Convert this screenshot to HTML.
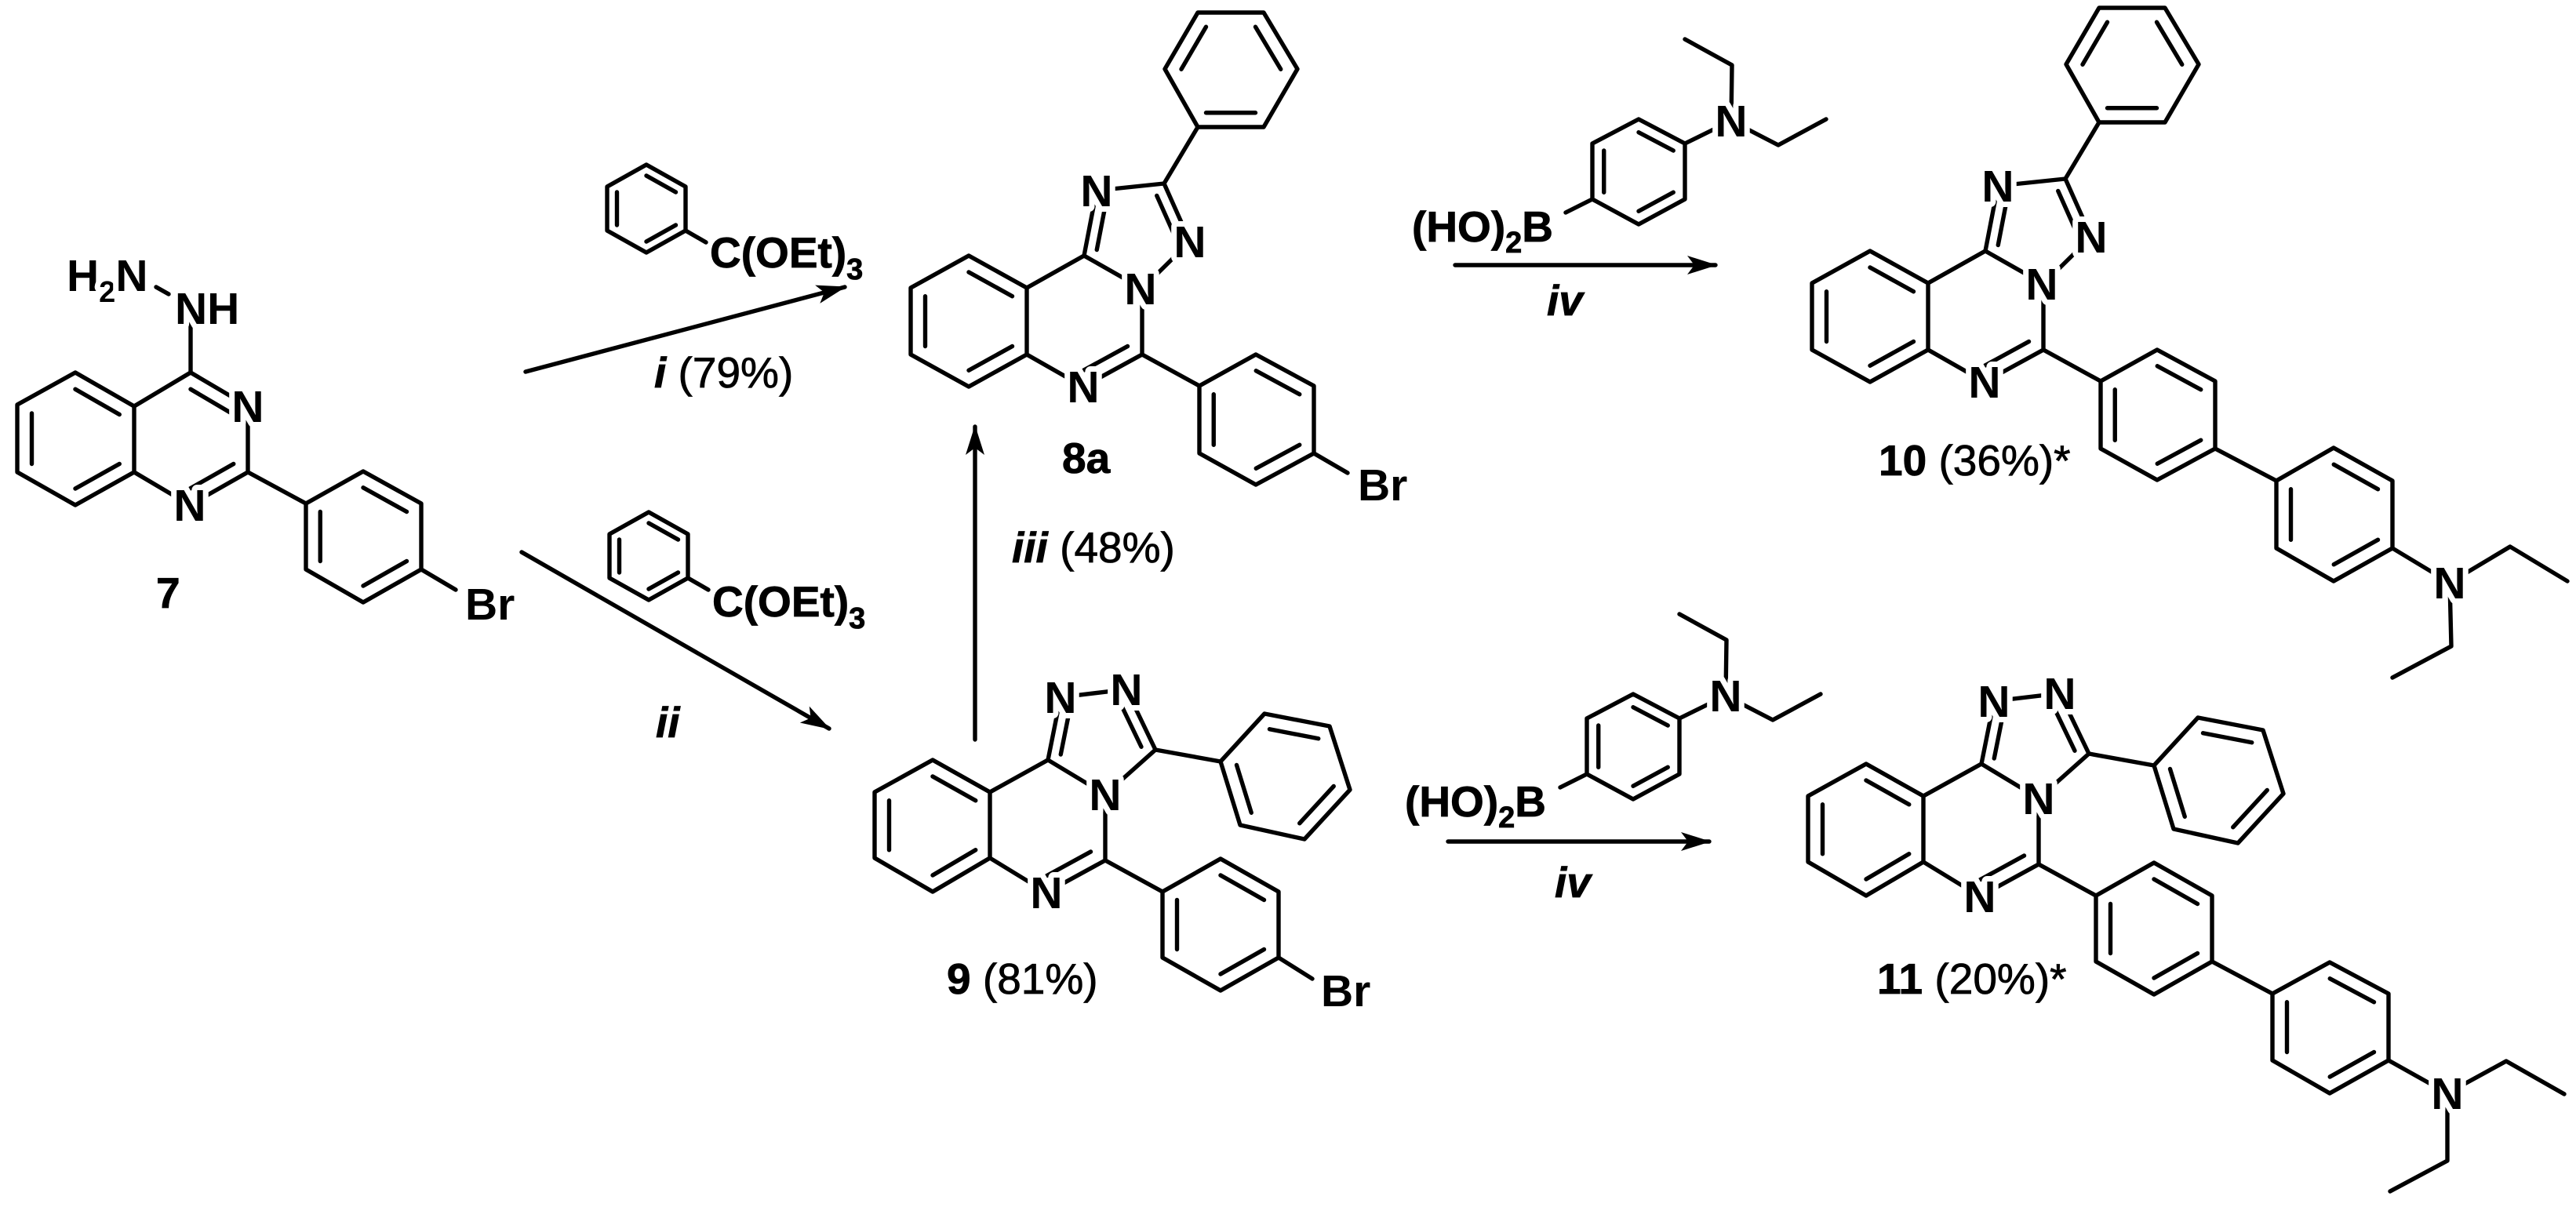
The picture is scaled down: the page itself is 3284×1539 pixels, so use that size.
<!DOCTYPE html>
<html><head><meta charset="utf-8">
<style>
html,body{margin:0;padding:0;background:#fff;}
svg{display:block;}
.b{stroke:#000;stroke-width:5.4;fill:none;stroke-linecap:round;stroke-linejoin:round;}
.in{stroke:#000;stroke-width:7.2;fill:none;stroke-linecap:round;}
text{font-family:"Liberation Sans",Arial,sans-serif;fill:#000;}
.lab{font-size:57px;font-weight:bold;stroke:#fff;stroke-width:14px;paint-order:stroke;stroke-linejoin:round;}
.t{font-size:55px;stroke:#000;stroke-width:0.8px;}
.bd{font-weight:bold;}
.it{font-style:italic;font-weight:bold;}
</style></head><body>
<svg width="3284" height="1539" viewBox="0 0 3284 1539" xmlns="http://www.w3.org/2000/svg">
<defs>
<marker id="ah" markerUnits="userSpaceOnUse" markerWidth="50" markerHeight="30" refX="0" refY="0" viewBox="-40 -15 50 30" orient="auto">
<path d="M2,0 L-36,-12 L-27,0 L-36,12 Z" fill="#000"/>
</marker>
<g id="coreA">
 <polygon class="b" points="1235,326 1309,367 1309,452 1235,493 1161,452 1161,367"/>
 <g transform="translate(308.75,102.5) scale(0.75)">
  <line class="in" x1="1235" y1="326" x2="1309" y2="367"/><line class="in" x1="1161" y1="452" x2="1161" y2="367"/><line class="in" x1="1309" y1="452" x2="1235" y2="493"/>
 </g>
 <polyline class="b" points="1309,367 1382,326 1456,368 1456,452 1381,493 1309,452"/>
 <g transform="translate(345.5,102.5) scale(0.75)"><line class="in" x1="1456" y1="452" x2="1381" y2="493"/></g>
 <polyline class="b" points="1382,326 1398,243 1484,234 1517,308 1456,368"/>
 <g transform="translate(361.75,74) scale(0.75)"><line class="in" x1="1382" y1="326" x2="1398" y2="243"/><line class="in" x1="1484" y1="234" x2="1517" y2="308"/></g>
 <line class="b" x1="1484" y1="234" x2="1527" y2="162"/>
 <polygon class="b" points="1527,162 1611,162 1654,88 1611,16 1527,16 1485,88"/>
 <g transform="translate(392.25,22.25) scale(0.75)"><line class="in" x1="1527" y1="162" x2="1611" y2="162"/><line class="in" x1="1654" y1="88" x2="1611" y2="16"/><line class="in" x1="1485" y1="88" x2="1527" y2="16"/></g>
 <line class="b" x1="1456" y1="452" x2="1529" y2="492"/>
 <polygon class="b" points="1529,492 1601,452 1675,492 1675,578 1601,618 1529,578"/>
 <g transform="translate(400.5,133.75) scale(0.75)"><line class="in" x1="1601" y1="452" x2="1675" y2="492"/><line class="in" x1="1675" y1="578" x2="1601" y2="618"/><line class="in" x1="1529" y1="578" x2="1529" y2="492"/></g>
</g>
<g id="coreB">
 <polygon class="b" points="1189,969 1262,1010 1262,1094 1189,1137 1115,1094 1115,1010"/>
 <g transform="translate(297.25,263.25) scale(0.75)"><line class="in" x1="1189" y1="969" x2="1262" y2="1010"/><line class="in" x1="1115" y1="1094" x2="1115" y2="1010"/><line class="in" x1="1262" y1="1094" x2="1189" y2="1137"/></g>
 <polyline class="b" points="1262,1010 1336,969 1409,1013 1409,1097 1334,1138 1262,1094"/>
 <g transform="translate(333.75,263.25) scale(0.75)"><line class="in" x1="1409" y1="1097" x2="1334" y2="1138"/></g>
 <polyline class="b" points="1336,969 1352,889 1436,879 1473,956 1409,1013"/>
 <g transform="translate(350.25,235.25) scale(0.75)"><line class="in" x1="1336" y1="969" x2="1352" y2="889"/><line class="in" x1="1436" y1="879" x2="1473" y2="956"/></g>
 <line class="b" x1="1473" y1="956" x2="1556" y2="971"/>
 <polygon class="b" points="1556,971 1612,910 1695,926 1721,1007 1663,1070 1581,1052"/>
 <g transform="translate(409.5,247.25) scale(0.75)"><line class="in" x1="1612" y1="910" x2="1695" y2="926"/><line class="in" x1="1721" y1="1007" x2="1663" y2="1070"/><line class="in" x1="1556" y1="971" x2="1581" y2="1052"/></g>
 <line class="b" x1="1409" y1="1097" x2="1482" y2="1137"/>
 <polygon class="b" points="1482,1137 1556,1095 1630,1137 1630,1221 1556,1263 1482,1221"/>
 <g transform="translate(389,294.75) scale(0.75)"><line class="in" x1="1556" y1="1095" x2="1630" y2="1137"/><line class="in" x1="1630" y1="1221" x2="1556" y2="1263"/><line class="in" x1="1482" y1="1221" x2="1482" y2="1137"/></g>
</g>
<g id="boro">
 <polygon class="b" points="2089,152 2148,183 2148,254 2089,286 2030,254 2030,183"/>
 <g transform="translate(522.25,54.75) scale(0.75)"><line class="in" x1="2089" y1="152" x2="2148" y2="183"/><line class="in" x1="2030" y1="254" x2="2030" y2="183"/><line class="in" x1="2148" y1="254" x2="2089" y2="286"/></g>
 <line class="b" x1="2148" y1="183" x2="2207" y2="154"/>
 <polyline class="b" points="2207,154 2208,83 2148,50"/>
 <polyline class="b" points="2207,154 2267,185 2328,152"/>
 <line class="b" x1="2030" y1="254" x2="1996" y2="271"/>
</g>
<g id="orth">
 <polygon class="b" points="824,210 874,238 874,294 824,322 774,294 774,238"/>
 <g transform="translate(206,66.5) scale(0.75)"><line class="in" x1="824" y1="210" x2="874" y2="238"/><line class="in" x1="774" y1="294" x2="774" y2="238"/><line class="in" x1="874" y1="294" x2="824" y2="322"/></g>
 <line class="b" x1="874" y1="294" x2="900" y2="309"/>
</g>
</defs>

<!-- Compound 7 -->
<polygon class="b" points="96,475 171,518 171,602 96,644 22,602 22,516"/>
<g transform="translate(24,140) scale(0.75)"><line class="in" x1="96" y1="475" x2="171" y2="518"/><line class="in" x1="22" y1="602" x2="22" y2="516"/><line class="in" x1="171" y1="602" x2="96" y2="644"/></g>
<polyline class="b" points="171,518 243,475 316,518 316,602 242,644 171,602"/>
<g transform="translate(60.75,140) scale(0.75)"><line class="in" x1="243" y1="475" x2="316" y2="518"/><line class="in" x1="316" y1="602" x2="242" y2="644"/></g>
<line class="b" x1="243" y1="475" x2="243" y2="400"/>
<line class="b" x1="199" y1="366" x2="215" y2="375"/>
<line class="b" x1="316" y1="602" x2="390" y2="642"/>
<polygon class="b" points="390,642 463,601 537,642 537,726 463,768 390,726"/>
<g transform="translate(115.75,171) scale(0.75)"><line class="in" x1="463" y1="601" x2="537" y2="642"/><line class="in" x1="537" y1="726" x2="463" y2="768"/><line class="in" x1="390" y1="726" x2="390" y2="642"/></g>
<line class="b" x1="537" y1="726" x2="581" y2="752"/>
<text class="lab" x="316" y="538" text-anchor="middle">N</text>
<text class="lab" x="242" y="664" text-anchor="middle">N</text>
<text class="lab" x="223" y="413">NH</text>
<text class="lab" x="85" y="371">H<tspan font-size="38" dy="14">2</tspan><tspan dy="-14">N</tspan></text>
<text class="lab" x="593" y="790">Br</text>
<text class="t bd" x="199" y="775">7</text>

<!-- reagents i / ii -->
<use href="#orth"/>
<text class="t bd" x="905" y="341">C(OEt)<tspan font-size="38" dy="15">3</tspan></text>
<use href="#orth" transform="translate(3,443)"/>
<text class="t bd" x="908" y="786">C(OEt)<tspan font-size="38" dy="15">3</tspan></text>

<!-- arrows -->
<line class="b" x1="670" y1="474" x2="1077" y2="366" marker-end="url(#ah)"/>
<line class="b" x1="665" y1="704" x2="1057" y2="929" marker-end="url(#ah)"/>
<line class="b" x1="1243" y1="943" x2="1243" y2="544" marker-end="url(#ah)"/>
<line class="b" x1="1855" y1="338" x2="2187" y2="338" marker-end="url(#ah)"/>
<line class="b" x1="1846" y1="1073" x2="2179" y2="1073" marker-end="url(#ah)"/>
<text class="t" x="834" y="494"><tspan class="it">i</tspan> (79%)</text>
<text class="t it" x="836" y="940">ii</text>
<text class="t" x="1290" y="717"><tspan class="it">iii</tspan> (48%)</text>
<text class="t it" x="1972" y="402">iv</text>
<text class="t it" x="1982" y="1144">iv</text>

<!-- 8a -->
<use href="#coreA"/>
<line class="b" x1="1675" y1="578" x2="1718" y2="603"/>
<text class="lab" x="1398" y="263" text-anchor="middle">N</text>
<text class="lab" x="1517" y="328" text-anchor="middle">N</text>
<text class="lab" x="1454" y="388" text-anchor="middle">N</text>
<text class="lab" x="1381" y="513" text-anchor="middle">N</text>
<text class="lab" x="1731" y="638">Br</text>
<text class="t bd" x="1354" y="603">8a</text>

<!-- 9 -->
<use href="#coreB"/>
<line class="b" x1="1630" y1="1221" x2="1673" y2="1248"/>
<text class="lab" x="1352" y="909" text-anchor="middle">N</text>
<text class="lab" x="1436" y="899" text-anchor="middle">N</text>
<text class="lab" x="1409" y="1033" text-anchor="middle">N</text>
<text class="lab" x="1334" y="1158" text-anchor="middle">N</text>
<text class="lab" x="1684" y="1283">Br</text>
<text class="t" x="1207" y="1267"><tspan class="bd">9</tspan> (81%)</text>

<!-- boronic acids -->
<use href="#boro"/>
<text class="lab" x="2207" y="174" text-anchor="middle">N</text>
<text class="t bd" x="1800" y="308">(HO)<tspan font-size="38" dy="14">2</tspan><tspan dy="-14">B</tspan></text>
<use href="#boro" transform="translate(-7,733)"/>
<text class="lab" x="2200" y="907" text-anchor="middle">N</text>
<text class="t bd" x="1791" y="1041">(HO)<tspan font-size="38" dy="14">2</tspan><tspan dy="-14">B</tspan></text>

<!-- 10 -->
<use href="#coreA" transform="translate(1149,-6)"/>
<line class="b" x1="2824" y1="572" x2="2902" y2="613"/>
<polygon class="b" points="2902,613 2975,571 3050,613 3050,699 2975,741 2902,699"/>
<g transform="translate(744,164) scale(0.75)"><line class="in" x1="2975" y1="571" x2="3050" y2="613"/><line class="in" x1="3050" y1="699" x2="2975" y2="741"/><line class="in" x1="2902" y1="699" x2="2902" y2="613"/></g>
<line class="b" x1="3050" y1="699" x2="3123" y2="743"/>
<polyline class="b" points="3123,743 3200,697 3273,741"/>
<polyline class="b" points="3123,743 3125,824 3050,864"/>
<text class="lab" x="2547" y="257" text-anchor="middle">N</text>
<text class="lab" x="2666" y="322" text-anchor="middle">N</text>
<text class="lab" x="2603" y="382" text-anchor="middle">N</text>
<text class="lab" x="2530" y="507" text-anchor="middle">N</text>
<text class="lab" x="3123" y="763" text-anchor="middle">N</text>
<text class="t" x="2395" y="606"><tspan class="bd">10</tspan> (36%)*</text>

<!-- 11 -->
<use href="#coreB" transform="translate(1190,5)"/>
<line class="b" x1="2820" y1="1226" x2="2897" y2="1267"/>
<polygon class="b" points="2897,1267 2970,1227 3045,1267 3045,1352 2970,1394 2897,1352"/>
<g transform="translate(742.75,327.5) scale(0.75)"><line class="in" x1="2970" y1="1227" x2="3045" y2="1267"/><line class="in" x1="3045" y1="1352" x2="2970" y2="1394"/><line class="in" x1="2897" y1="1352" x2="2897" y2="1267"/></g>
<line class="b" x1="3045" y1="1352" x2="3120" y2="1394"/>
<polyline class="b" points="3120,1394 3195,1353 3269,1395"/>
<polyline class="b" points="3120,1394 3120,1480 3047,1519"/>
<text class="lab" x="2542" y="914" text-anchor="middle">N</text>
<text class="lab" x="2626" y="904" text-anchor="middle">N</text>
<text class="lab" x="2599" y="1038" text-anchor="middle">N</text>
<text class="lab" x="2524" y="1163" text-anchor="middle">N</text>
<text class="lab" x="3120" y="1414" text-anchor="middle">N</text>
<text class="t" x="2393" y="1267"><tspan class="bd">11</tspan> (20%)*</text>
</svg>
</body></html>
